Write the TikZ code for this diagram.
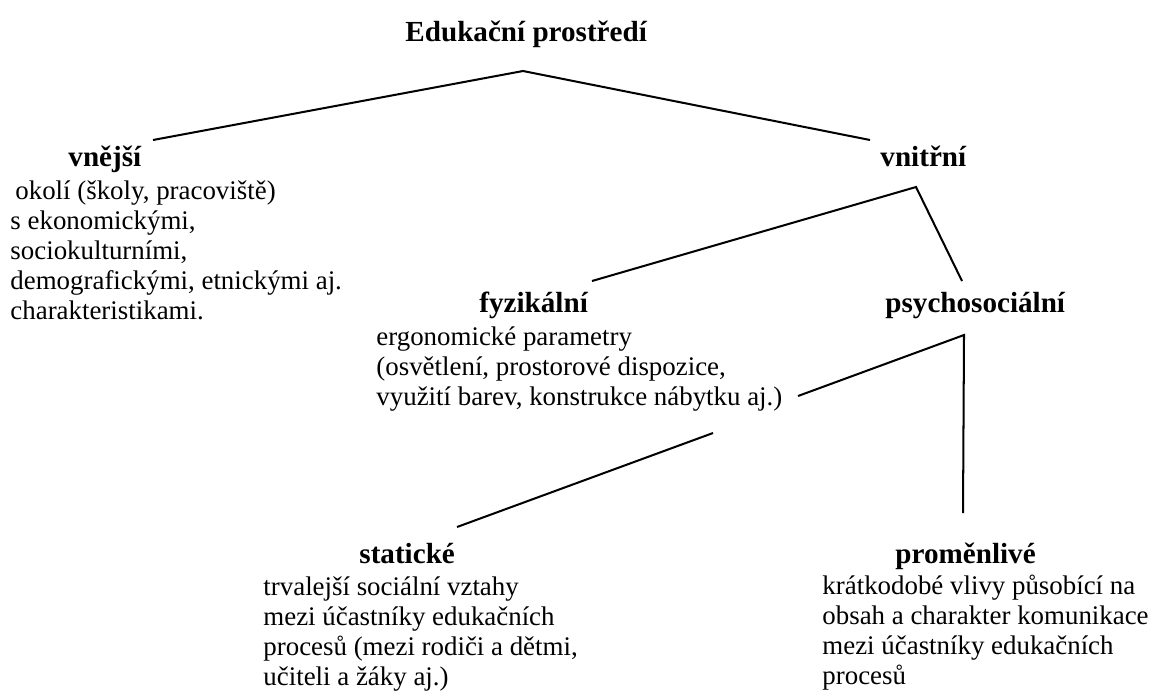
\documentclass[tikz,border=0pt]{standalone}
\usepackage{fontspec}
\setmainfont{Liberation Serif}
\newcommand{\radky}[1]{\begin{tabular}[t]{@{}l@{}}#1\end{tabular}}
\tikzset{
  hlava/.style={font=\fontsize{13}{15}\selectfont\bfseries, inner sep=0pt, anchor=base west},
  popis/.style={font=\fontsize{12}{13.5}\selectfont, inner sep=0pt, anchor=base west},
  vetev/.style={line width=0.9pt}
}
\begin{document}
\begin{tikzpicture}[x=0.4464pt, y=-0.4464pt]
        \useasboundingbox (0,0) rectangle (1149,691);
        \node[hlava] (edukace) at (405,41) {Edukační prostředí};
        \node[hlava] (vnejsi) at (68,166) {vnější};
        \node[popis] (vnejsiText) at (10,199) {\radky{\hspace{2.2pt}okolí (školy, pracoviště)\\ s ekonomickými,\\ sociokulturními,\\ demografickými, etnickými aj.\\ charakteristikami.}};
        \node[hlava] (vnitrni) at (880,166) {vnitřní};
        \node[hlava] (fyzikalni) at (479,312) {fyzikální};
        \node[popis] (fyzikalniText) at (376,345) {\radky{ergonomické parametry\\ (osvětlení, prostorové dispozice,\\ využití barev, konstrukce nábytku aj.)}};
        \node[hlava] (psycho) at (885,312) {psychosociální};
        \node[hlava] (staticke) at (359,563) {statické};
        \node[popis] (statickeText) at (263,595) {\radky{trvalejší sociální vztahy\\ mezi účastníky edukačních\\ procesů (mezi rodiči a dětmi,\\ učiteli a žáky aj.)}};
        \node[hlava] (promenlive) at (895,563) {proměnlivé};
        \node[popis] (promenliveText) at (822,594) {\radky{krátkodobé vlivy působící na\\ obsah a charakter komunikace\\ mezi účastníky edukačních\\ procesů}};
        \coordinate (P0) at (523,71);
        \coordinate (P1) at (153,140);
        \coordinate (P2) at (870,140);
        \coordinate (V0) at (916,187);
        \coordinate (V1) at (592,281);
        \coordinate (V2) at (962,281);
        \coordinate (S0) at (964,335);
        \coordinate (S1) at (798,396);
        \coordinate (S2) at (963,513);
        \coordinate (S3) at (713,433);
        \coordinate (S4) at (457,527);
        \draw[vetev] (P1) -- (P0) -- (P2);
        \draw[vetev] (V1) -- (V0) -- (V2);
        \draw[vetev] (S1) -- (S0) -- (S2);
        \draw[vetev] (S3) -- (S4);
    \end{tikzpicture}
\end{document}
